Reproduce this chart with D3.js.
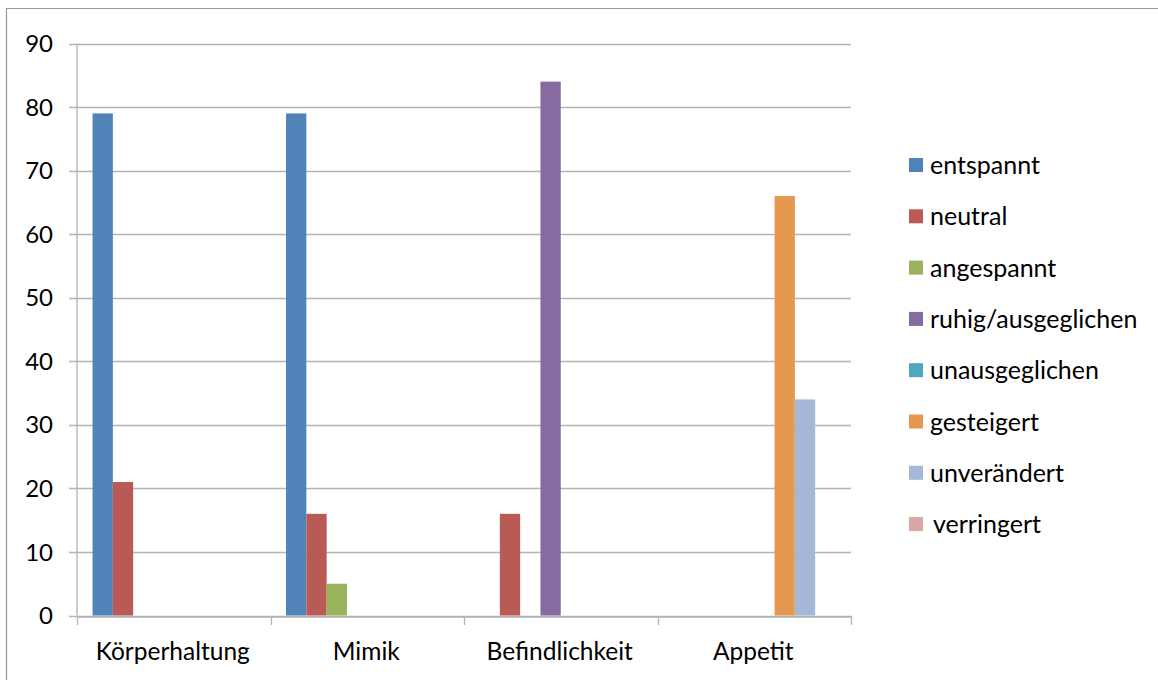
<!DOCTYPE html>
<html>
<head>
<meta charset="utf-8">
<script src="https://cdn.jsdelivr.net/npm/d3@7"></script>
<style>
  html, body { margin: 0; padding: 0; background: #fff; }
  svg { display: block; }
  text { font-family: Lato, "Open Sans", sans-serif; fill: #000; }
</style>
</head>
<body>
<svg id="chart" width="1158" height="680"></svg>
<script>
// Kategorien (x-Achse)
const categories = ["Körperhaltung", "Mimik", "Befindlichkeit", "Appetit"];

// Antwortkategorien (Legende) und ihre Farben
const seriesNames = ["entspannt", "neutral", "angespannt", "ruhig/ausgeglichen",
                     "unausgeglichen", "gesteigert", "unverändert", "verringert"];
const seriesColors = ["#5083B8", "#BA5A55", "#9BB25C", "#866BA0",
                      "#4FA8BF", "#E5984F", "#A4B8D9", "#D9A7A5"];

// Werte je Antwortkategorie, in der Reihenfolge der Kategorien
const entspannt        = [79, 79, 0, 0];
const neutral          = [21, 16, 16, 0];
const angespannt       = [0, 5, 0, 0];
const ruhigAusgegl     = [0, 0, 84, 0];
const unausgeglichen   = [0, 0, 0, 0];
const gesteigert       = [0, 0, 0, 66];
const unveraendert     = [0, 0, 0, 34];
const verringert       = [0, 0, 0, 0];
const seriesValues = [entspannt, neutral, angespannt, ruhigAusgegl,
                      unausgeglichen, gesteigert, unveraendert, verringert];

// y-Achse
const yTicks = [0, 10, 20, 30, 40, 50, 60, 70, 80, 90];

const svg = d3.select("#chart");
const plot = { left: 77, right: 851, top: 43.5, bottom: 615.5 };

// Rahmen um das Diagramm
svg.append("path")
  .attr("d", "M6.5,690 L6.5,8.5 L1170,8.5")
  .attr("fill", "none")
  .attr("stroke", "#979797")
  .attr("stroke-width", 1.2);

const x0 = d3.scaleBand()
  .domain(categories)
  .range([plot.left, plot.right])
  .paddingInner(0)
  .paddingOuter(0);

const inner = 162.4 / x0.bandwidth();
const x1 = d3.scaleBand()
  .domain(seriesNames)
  .range([(1 - inner) / 2 * x0.bandwidth(), (1 + inner) / 2 * x0.bandwidth()])
  .padding(0);

const y = d3.scaleLinear().domain([0, 90]).range([plot.bottom, plot.top]);

// Gitterlinien
svg.append("g")
  .selectAll("line")
  .data(yTicks)
  .join("line")
  .attr("x1", plot.left - 8)
  .attr("x2", plot.right)
  .attr("y1", d => Math.round(y(d)) + 0.5)
  .attr("y2", d => Math.round(y(d)) + 0.5)
  .attr("stroke", "#b4b4b4")
  .attr("stroke-width", 1.3);

// y-Achsenlinie
svg.append("line")
  .attr("x1", plot.left).attr("x2", plot.left)
  .attr("y1", plot.top).attr("y2", plot.bottom)
  .attr("stroke", "#b4b4b4").attr("stroke-width", 1.3);

// y-Beschriftungen
svg.append("g")
  .selectAll("text")
  .data(yTicks)
  .join("text")
  .attr("x", 53)
  .attr("y", d => y(d))
  .attr("dy", "0.36em")
  .attr("text-anchor", "end")
  .style("font-size", "24px")
  .text(d => d);

// Balken
const groups = svg.append("g")
  .selectAll("g")
  .data(categories)
  .join("g")
  .attr("transform", c => `translate(${x0(c)},0)`);

groups.selectAll("rect")
  .data((c, ci) => seriesNames.map((s, si) => ({ s, si, v: seriesValues[si][ci] })))
  .join("rect")
  .attr("x", d => x1(d.s))
  .attr("width", x1.bandwidth())
  .attr("y", d => y(d.v))
  .attr("height", d => y(0) - y(d.v))
  .attr("fill", d => seriesColors[d.si]);

// x-Achse mit Teilstrichen an den Kategoriegrenzen
const xAxis = d3.axisBottom(x0).tickSize(0).tickPadding(0).tickFormat("");
const gx = svg.append("g").attr("transform", `translate(0,${Math.round(plot.bottom) + 0.5})`).call(xAxis);
gx.select(".domain").attr("stroke", "#b4b4b4").attr("stroke-width", 1.3);
gx.selectAll(".tick").remove();

const boundaries = categories.map(c => x0(c)).concat([plot.right]);
svg.append("g")
  .selectAll("line")
  .data(boundaries)
  .join("line")
  .attr("x1", d => Math.round(d) + 0.5)
  .attr("x2", d => Math.round(d) + 0.5)
  .attr("y1", Math.round(plot.bottom))
  .attr("y2", Math.round(plot.bottom) + 9)
  .attr("stroke", "#b4b4b4")
  .attr("stroke-width", 1.3);

svg.append("g")
  .selectAll("text")
  .data(categories)
  .join("text")
  .attr("x", c => x0(c) + x0.bandwidth() / 2 - 1)
  .attr("y", 651)
  .attr("dy", "0.36em")
  .attr("text-anchor", "middle")
  .style("font-size", "24.5px")
  .text(c => c);

// Legende
const legend = svg.append("g")
  .selectAll("g")
  .data(seriesNames)
  .join("g")
  .attr("transform", (d, i) => `translate(909,${165 + i * 51.3})`);

legend.append("rect")
  .attr("x", 0).attr("y", -7)
  .attr("width", 14).attr("height", 14)
  .attr("fill", (d, i) => seriesColors[i]);

legend.append("text")
  .attr("x", (d, i) => i === seriesNames.length - 1 ? 24 : 21)
  .attr("y", 0)
  .attr("dy", "0.36em")
  .style("font-size", "25px")
  .text(d => d);
</script>
</body>
</html>
